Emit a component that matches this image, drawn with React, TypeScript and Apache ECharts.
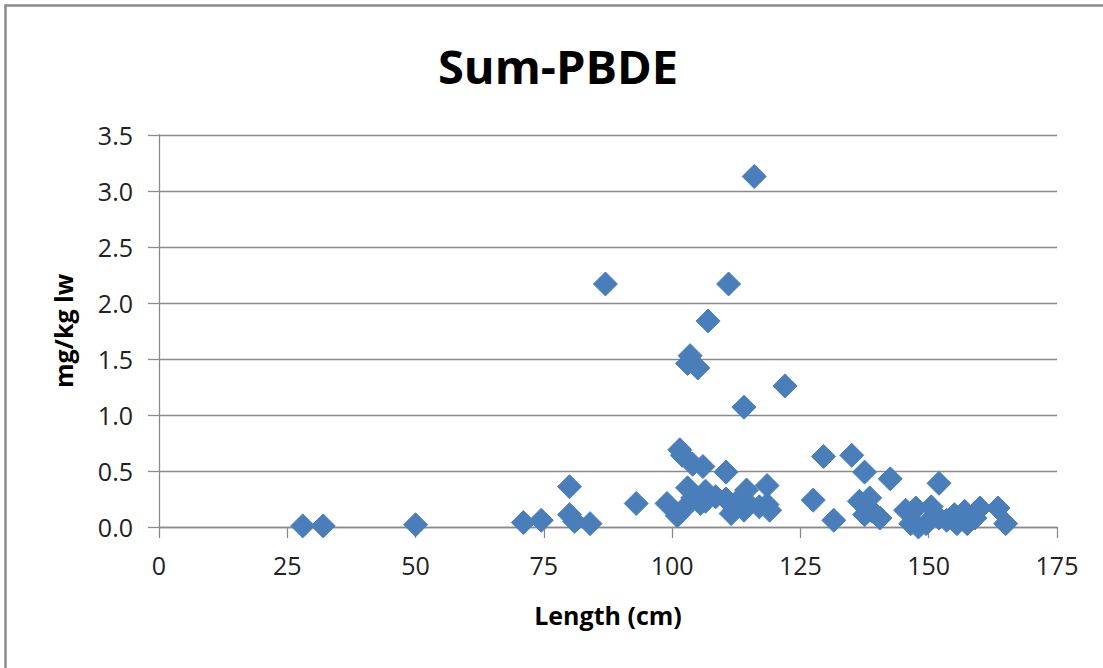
import React, { useEffect, useRef } from "react";
import * as echarts from "echarts";

const titleText = "Sum-PBDE";
const xAxisName = "Length (cm)";
const yAxisName = "mg/kg lw";

const lengthCm: number[] = [
  28, 32, 50, 71, 74.5, 80, 80, 81, 84, 87,
  93, 99, 101, 101.5, 102, 102, 103, 103, 103.5, 104,
  104, 105, 105.5, 106, 106.5, 106.5, 107, 108.5, 110.5, 110.5,
  111, 111.5, 112.5, 114, 114, 114.5, 115, 116, 117, 118.5,
  118.5, 119, 122, 127.5, 129.5, 131.5, 135, 136.5, 137.5, 137.5,
  138.5, 139, 140.5, 142.5, 145.5, 146.5, 147.5, 148, 149.5, 150.5,
  152, 152, 153.5, 155, 155.5, 157, 157.5, 159, 160, 163.5,
  165,
];

const pbde: number[] = [
  0.01, 0.01, 0.02, 0.04, 0.06, 0.36, 0.11, 0.05, 0.03, 2.17,
  0.21, 0.21, 0.1, 0.69, 0.64, 0.15, 0.35, 1.46, 1.53, 0.56,
  0.26, 1.42, 0.21, 0.54, 0.32, 0.23, 1.84, 0.27, 0.49, 0.25,
  2.17, 0.12, 0.22, 1.07, 0.15, 0.33, 0.2, 3.13, 0.18, 0.37,
  0.2, 0.15, 1.26, 0.24, 0.63, 0.06, 0.64, 0.23, 0.49, 0.11,
  0.26, 0.14, 0.08, 0.43, 0.15, 0.03, 0.17, 0.0, 0.03, 0.18,
  0.39, 0.08, 0.06, 0.11, 0.03, 0.14, 0.03, 0.08, 0.17, 0.17,
  0.03,
];

const xTicks = { min: 0, max: 175, interval: 25 };
const yTicks = { min: 0, max: 3.5, interval: 0.5 };

export default function App() {
  const ref = useRef<HTMLDivElement>(null);

  useEffect(() => {
    document.body.style.margin = "0";
    document.body.style.overflow = "hidden";
    document.documentElement.style.overflow = "hidden";
    if (!ref.current) return;
    const chart = echarts.init(ref.current, undefined, { renderer: "svg" });
    const font = "'Open Sans', 'Noto Sans', sans-serif";
    const gridColor = "#8a8a8a";
    const data = lengthCm.map((x, i) => [x, pbde[i]]);

    chart.setOption({
      animation: false,
      backgroundColor: "#ffffff",
      grid: { left: 159, right: 46, top: 135, bottom: 141 },
      graphic: [
        {
          type: "line",
          shape: { x1: 4.5, y1: 5.5, x2: 1103, y2: 5.5 },
          style: { stroke: "#8c8c8c", lineWidth: 2.5 },
          silent: true,
        },
        {
          type: "line",
          shape: { x1: 5.5, y1: 4.5, x2: 5.5, y2: 668 },
          style: { stroke: "#8c8c8c", lineWidth: 2.5 },
          silent: true,
        },
        {
          type: "text",
          x: 558,
          y: 42,
          style: {
            text: titleText,
            font: `bold 47px ${font}`,
            fill: "#000000",
            textAlign: "center",
            textVerticalAlign: "top",
          },
        },
      ],
      xAxis: {
        type: "value",
        min: xTicks.min,
        max: xTicks.max,
        interval: xTicks.interval,
        name: xAxisName,
        nameLocation: "middle",
        nameGap: 75,
        nameTextStyle: { fontFamily: font, fontSize: 25, fontWeight: "bold", color: "#000" },
        axisLine: { show: true, lineStyle: { color: gridColor, width: 1.3 } },
        axisTick: { show: true, length: 11, inside: false, lineStyle: { color: gridColor, width: 1.3 } },
        axisLabel: { fontFamily: font, fontSize: 25, color: "#222", margin: 25 },
        splitLine: { show: false },
      },
      yAxis: {
        type: "value",
        min: yTicks.min,
        max: yTicks.max,
        interval: yTicks.interval,
        name: yAxisName,
        nameLocation: "middle",
        nameRotate: 90,
        nameGap: 84,
        nameTextStyle: { fontFamily: font, fontSize: 25, fontWeight: "bold", color: "#000" },
        axisLine: { show: true, lineStyle: { color: gridColor, width: 1.3 } },
        axisTick: { show: true, length: 11, inside: false, lineStyle: { color: gridColor, width: 1.3 } },
        axisLabel: {
          fontFamily: font,
          fontSize: 25,
          color: "#222",
          margin: 26,
          formatter: (v: number) => v.toFixed(1),
        },
        splitLine: { show: true, lineStyle: { color: gridColor, width: 1.3 } },
      },
      series: [
        {
          type: "scatter",
          data,
          symbol: "diamond",
          symbolSize: 24,
          itemStyle: { color: "#4a7ebb", borderColor: "#4a7ebb", borderWidth: 1, opacity: 1 },
        },
      ],
    });

    return () => chart.dispose();
  }, []);

  return <div ref={ref} style={{ width: 1103, height: 668 }} />;
}
